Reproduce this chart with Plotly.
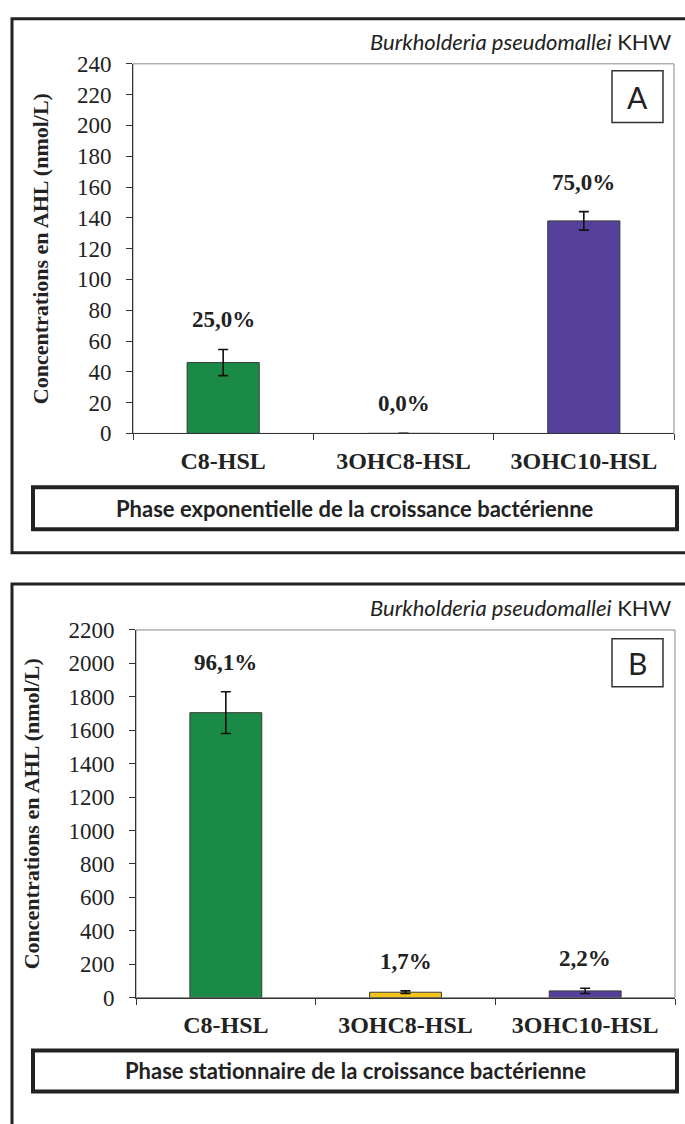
import plotly.graph_objects as go

# ---------------- data ----------------
categories = ["C8-HSL", "3OHC8-HSL", "3OHC10-HSL"]
bar_colors = ["#1c8a47", "#f2c318", "#55419b"]

exp_values = [46, 0, 138]
exp_errors = [8.5, 0, 6]
exp_labels = ["25,0%", "0,0%", "75,0%"]

stat_values = [1705, 32, 40]
stat_errors = [125, 8, 16]
stat_labels = ["96,1%", "1,7%", "2,2%"]

title_species = "Burkholderia pseudomallei"
title_strain = "KHW"
panel_letters = ["A", "B"]
phase_texts = ["Phase exponentielle de la croissance bactérienne",
               "Phase stationnaire de la croissance bactérienne"]
y_title = "Concentrations en AHL (nmol/L)"

W, H = 685, 1124


def px(x):
    return x / W


def py(y):
    return 1 - y / H


SERIF = "Liberation Serif"
SANS = "Lato"

fig = go.Figure()

panels = [
    dict(vals=exp_values, errs=exp_errors, labels=exp_labels, xa="x", ya="y",
         plot=(133, 674, 53, 431), yr=240, dt=20,
         outer=(12, 700, 7, 553), title_y=30, letter_box=(612, 663, 60, 113),
         phase_box=(33, 677, 486, 529)),
    dict(vals=stat_values, errs=stat_errors, labels=stat_labels, xa="x2", ya="y2",
         plot=(136, 675, 632, 1008), yr=2200, dt=200,
         outer=(12, 700, 585, 1160), title_y=609, letter_box=(612, 663, 641, 690),
         phase_box=(33, 677, 1062, 1104)),
]

shapes = []
annotations = []

for i, p in enumerate(panels):
    fig.add_trace(go.Bar(
        x=categories, y=p["vals"], xaxis=p["xa"], yaxis=p["ya"],
        marker=dict(color=bar_colors, line=dict(color="#3a3a3a", width=1)),
        width=0.4,
        error_y=dict(type="data", array=p["errs"], visible=True,
                     color="#111", thickness=1.6, width=5),
        showlegend=False, hoverinfo="skip",
    ))
    for c, v, e, lab in zip(categories, p["vals"], p["errs"], p["labels"]):
        annotations.append(dict(
            x=c, y=v + e, xref=p["xa"], yref=p["ya"], text=lab,
            showarrow=False, yanchor="bottom", yshift=15,
            font=dict(family=SERIF, size=23, color="#222", weight="bold")))

    x0, x1, y0, y1 = p["plot"]
    axn = "" if i == 0 else "2"
    fig.update_layout(**{
        "xaxis" + axn: dict(
            domain=[px(x0), px(x1)], anchor="y" + axn,
            type="category", tickson="boundaries", ticks="outside",
            ticklen=6, tickcolor="#333", showline=True, linecolor="#333",
            linewidth=1, showgrid=False, zeroline=False,
            tickfont=dict(family=SERIF, size=24, color="#222", weight="bold"),
            ticklabelstandoff=6, fixedrange=True),
        "yaxis" + axn: dict(
            domain=[py(y1), py(y0)], anchor="x" + axn,
            range=[0, p["yr"]], dtick=p["dt"], ticks="outside", ticklen=6,
            tickcolor="#333", showline=True, linecolor="#333", linewidth=1,
            showgrid=False, zeroline=False,
            tickfont=dict(family=SERIF, size=23, color="#222"),
            ticklabelstandoff=10,
            title=dict(text=y_title, standoff=22,
                       font=dict(family=SERIF, size=22, color="#222", weight="bold")),
            fixedrange=True),
    })

    # plot area frame
    shapes.append(dict(type="rect", xref="paper", yref="paper",
                       x0=px(x0), x1=px(x1), y0=py(y1), y1=py(y0),
                       line=dict(color="#888", width=1), layer="below"))
    # outer panel frame
    ox0, ox1, oy0, oy1 = p["outer"]
    shapes.append(dict(type="rect", xref="paper", yref="paper",
                       x0=px(ox0), x1=px(ox1), y0=py(oy1), y1=py(oy0),
                       line=dict(color="#222", width=3)))
    # letter box
    lx0, lx1, ly0, ly1 = p["letter_box"]
    shapes.append(dict(type="rect", xref="paper", yref="paper",
                       x0=px(lx0), x1=px(lx1), y0=py(ly1), y1=py(ly0),
                       line=dict(color="#333", width=1.5)))
    annotations.append(dict(x=px((lx0 + lx1) / 2), y=py((ly0 + ly1) / 2),
                            xref="paper", yref="paper", text=panel_letters[i],
                            showarrow=False, xanchor="center", yanchor="middle",
                            font=dict(family=SANS, size=30, color="#222")))
    # phase box
    bx0, bx1, by0, by1 = p["phase_box"]
    shapes.append(dict(type="rect", xref="paper", yref="paper",
                       x0=px(bx0), x1=px(bx1), y0=py(by1), y1=py(by0),
                       line=dict(color="#222", width=4)))
    annotations.append(dict(x=px((bx0 + bx1) / 2), y=py((by0 + by1) / 2),
                            xref="paper", yref="paper", text=phase_texts[i],
                            showarrow=False, xanchor="center", yanchor="middle",
                            font=dict(family=SANS, size=22, color="#222", weight="bold")))
    # species title
    annotations.append(dict(x=px(674), y=py(p["title_y"]), xref="paper", yref="paper",
                            text=f"<i>{title_species}</i> {title_strain}",
                            showarrow=False, xanchor="right", yanchor="middle",
                            font=dict(family=SANS, size=22, color="#222")))

fig.update_layout(
    width=W, height=H, margin=dict(l=0, r=0, t=0, b=0),
    paper_bgcolor="white", plot_bgcolor="white",
    shapes=shapes, annotations=annotations, bargap=0.6,
)

fig.write_html(
    "out.html",
    config={"displayModeBar": False},
    post_script="document.body.style.margin='0';document.body.style.overflow='hidden';",
)
